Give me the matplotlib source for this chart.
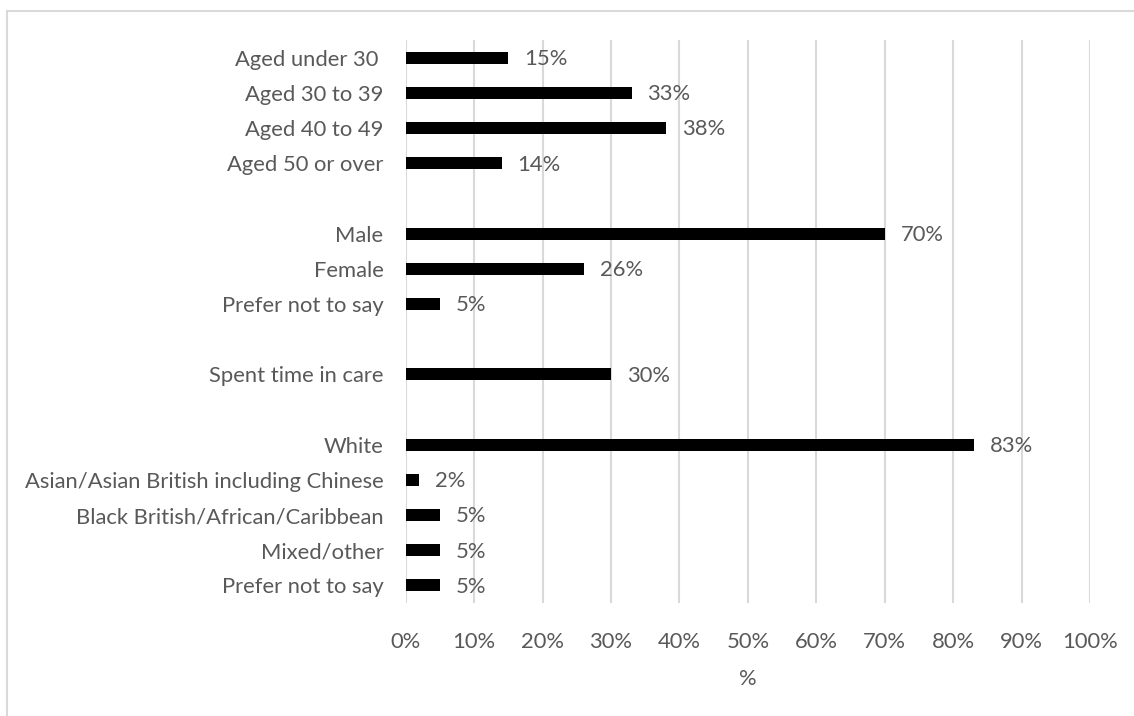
import matplotlib.pyplot as plt
from matplotlib.patches import Rectangle
from matplotlib.ticker import FuncFormatter

# Respondent profile, percent of respondents in each group.
age_labels = ['Aged under 30 ', 'Aged 30 to 39', 'Aged 40 to 49', 'Aged 50 or over']
age_values = [15, 33, 38, 14]

gender_labels = ['Male', 'Female', 'Prefer not to say']
gender_values = [70, 26, 5]

care_labels = ['Spent time in care']
care_values = [30]

ethnicity_labels = ['White', 'Asian/Asian British including Chinese',
                    'Black British/African/Caribbean', 'Mixed/other', 'Prefer not to say']
ethnicity_values = [83, 2, 5, 5, 5]

x_ticks = [0, 10, 20, 30, 40, 50, 60, 70, 80, 90, 100]

text_grey = '#595959'
font_size = 15.8
plt.rcParams['font.family'] = ['Lato', 'DejaVu Sans']

# Lay the groups out one after another with an empty row between them.
labels, values, rows = [], [], []
row = 0
for group_labels, group_values in [(age_labels, age_values),
                                   (gender_labels, gender_values),
                                   (care_labels, care_values),
                                   (ethnicity_labels, ethnicity_values)]:
    for lab, val in zip(group_labels, group_values):
        labels.append(lab)
        values.append(val)
        rows.append(row)
        row += 1
    row += 1
n_rows = row - 1

fig = plt.figure(figsize=(11.34, 7.16), dpi=100)
ax = fig.add_axes([0.3578, 0.1578, 0.6034, 0.7863])

ax.barh(rows, values, height=0.34, color='black', zorder=3)
for r, v in zip(rows, values):
    ax.annotate('%d%%' % v, xy=(v, r), xytext=(11.5, -1), textcoords='offset points',
                va='center', ha='left', fontsize=font_size, color=text_grey)

ax.set_xlim(0, 100)
ax.set_ylim(n_rows - 0.5, -0.5)
ax.set_xticks(x_ticks)
ax.xaxis.set_major_formatter(FuncFormatter(lambda x, pos: '%d%%' % x))
ax.set_yticks(rows)
ax.set_yticklabels(labels)
ax.tick_params(axis='both', length=0, labelsize=font_size, labelcolor=text_grey)
ax.tick_params(axis='y', pad=16)
ax.tick_params(axis='x', pad=21)
ax.set_xlabel('%', fontsize=font_size, color=text_grey, labelpad=12)

ax.grid(axis='x', color='#d9d9d9', linewidth=1.5, zorder=0)
ax.set_axisbelow(True)
for side in ax.spines.values():
    side.set_visible(False)

# Chart area frame
fig.patches.append(Rectangle((7 / 1134, -0.05), 1.1, 1 - 11 / 716 + 0.05,
                             transform=fig.transFigure, fill=False,
                             edgecolor='#d9d9d9', linewidth=1.5))

fig.savefig('out.png', dpi=100)
